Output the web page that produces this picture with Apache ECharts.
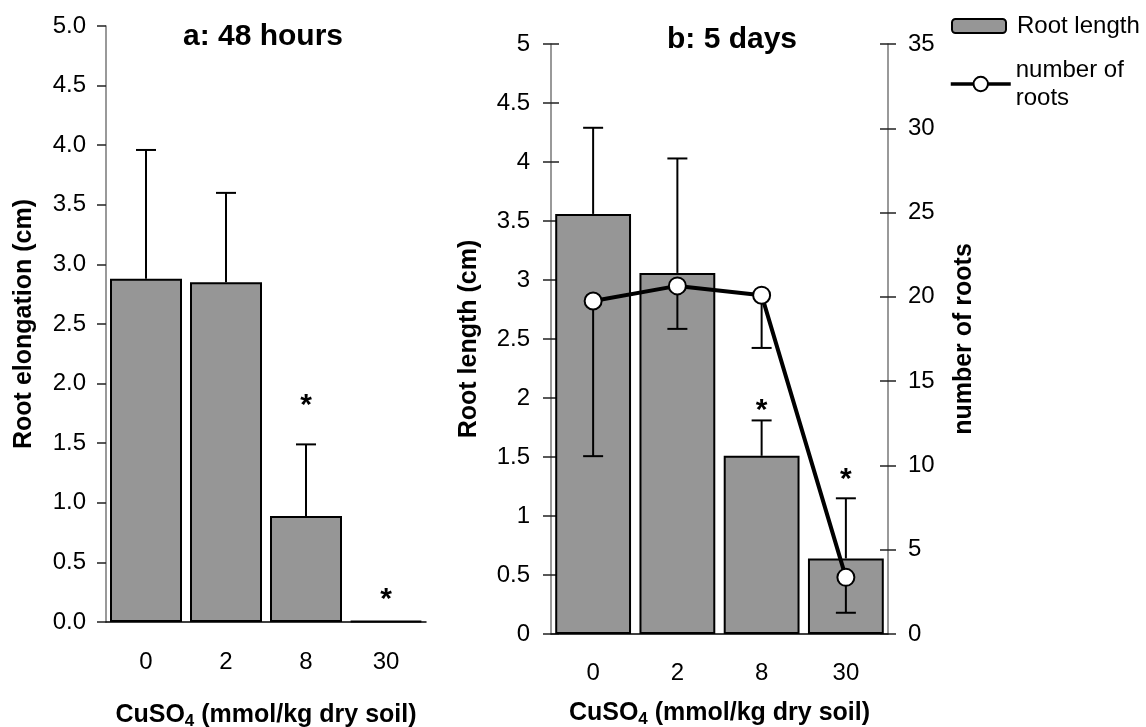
<!DOCTYPE html>
<html>
<head>
<meta charset="utf-8">
<script src="https://cdn.jsdelivr.net/npm/echarts@6/dist/echarts.min.js"></script>
<style>
  html, body { margin: 0; padding: 0; background: #fff; }
  #chart { width: 1146px; height: 727px; }
</style>
</head>
<body>
<div id="chart"></div>
<script>
// CuSO4 doses (mmol/kg dry soil)
var categories = ['0', '2', '8', '30'];

// a: 48 hours - root elongation (cm) and SD
var elong48h = [2.88, 2.85, 0.89, 0.01];
var elong48hErr = [1.08, 0.75, 0.60, 0];
var stars48h = [null, null, 1.88, 0.25];

// b: 5 days - root length (cm), number of roots and their SDs
var length5d = [3.56, 3.06, 1.51, 0.64];
var length5dErr = [0.73, 0.97, 0.30, 0.51];
var roots5d = [19.75, 20.65, 20.1, 3.36];
var roots5dErr = [9.2, 2.55, 3.13, 2.1];
var stars5d = [null, null, 1.96, 1.375];

var FONT = 'Liberation Sans, Arial, sans-serif';
var GRAY = '#969696';

function errData(vals, errs) {
  return vals.map(function (v, i) { return [i, v, errs[i]]; });
}

function starData(ys) {
  var out = [];
  ys.forEach(function (y, i) { if (y != null) out.push([i, y]); });
  return out;
}

// dir: 1 = upper error bar, -1 = lower
function errRender(dir) {
  return function (params, api) {
    var e = api.value(2);
    if (!e) return;
    var v = api.value(1);
    var p0 = api.coord([api.value(0), v]);
    var p1 = api.coord([api.value(0), v + dir * e]);
    var st = { stroke: '#000', lineWidth: 2 };
    return {
      type: 'group',
      children: [
        { type: 'line', shape: { x1: p0[0], y1: p0[1], x2: p1[0], y2: p1[1] }, style: st },
        { type: 'line', shape: { x1: p1[0] - 10, y1: p1[1], x2: p1[0] + 10, y2: p1[1] }, style: st }
      ]
    };
  };
}

function starRender(params, api) {
  var p = api.coord([api.value(0), api.value(1)]);
  return {
    type: 'text',
    x: p[0],
    y: p[1] + 8,
    style: { text: '*', font: 'bold 30px ' + FONT, fill: '#000', align: 'center', verticalAlign: 'middle' }
  };
}

var tickFont = { fontFamily: FONT, fontSize: 24, color: '#000' };
var nameFont = { fontFamily: FONT, fontSize: 25, fontWeight: 'bold', color: '#000' };
var xName = 'CuSO{sub|4} (mmol/kg dry soil)';
var xNameStyle = {
  fontFamily: FONT, fontSize: 25, fontWeight: 'bold', color: '#000',
  rich: { sub: { fontFamily: FONT, fontSize: 17, fontWeight: 'bold', color: '#000', padding: [12, 0, 0, 0] } }
};
var tickLine = { color: '#222', width: 1.5 };
var hiddenLine = { show: true, lineStyle: { color: 'rgba(0,0,0,0)', width: 0 } };

var chart = echarts.init(document.getElementById('chart'));

chart.setOption({
  animation: false,
  title: [
    { text: 'a: 48 hours', left: 258, top: 17, textAlign: 'center',
      textStyle: { fontFamily: FONT, fontSize: 30, fontWeight: 'bold', color: '#000' } },
    { text: 'b: 5 days', left: 727, top: 20, textAlign: 'center',
      textStyle: { fontFamily: FONT, fontSize: 30, fontWeight: 'bold', color: '#000' } }
  ],
  legend: [
    {
      data: ['Root length'], orient: 'vertical', left: 946, top: 9,
      itemWidth: 54, itemHeight: 14,
      textStyle: { fontFamily: FONT, fontSize: 24, color: '#000', padding: [0, 0, 0, 6] }
    },
    {
      data: ['number of\nroots'], orient: 'vertical', left: 944, top: 37,
      itemWidth: 60, itemHeight: 18,
      lineStyle: { width: 3.5 },
      textStyle: { fontFamily: FONT, fontSize: 24, lineHeight: 28, color: '#000', padding: [28, 0, 0, 0] }
    }
  ],
  grid: [
    { left: 106, right: 720, top: 26, bottom: 105, outerBoundsMode: 'none', containLabel: false },
    { left: 551, right: 258, top: 44, bottom: 93, outerBoundsMode: 'none', containLabel: false }
  ],
  xAxis: [
    {
      gridIndex: 0, type: 'category', data: categories,
      axisLine: { lineStyle: { color: '#000', width: 1.5 } },
      axisTick: { length: 9, lineStyle: { color: '#777', width: 1.5 } },
      axisLabel: Object.assign({ margin: 28 }, tickFont),
      name: xName, nameLocation: 'middle', nameGap: 79, nameTextStyle: xNameStyle
    },
    {
      gridIndex: 1, type: 'category', data: categories,
      axisLine: { lineStyle: { color: '#000', width: 1.5 } },
      axisTick: { length: 9, lineStyle: { color: '#777', width: 1.5 } },
      axisLabel: Object.assign({ margin: 27 }, tickFont),
      name: xName, nameLocation: 'middle', nameGap: 65, nameTextStyle: xNameStyle
    }
  ],
  yAxis: [
    {
      gridIndex: 0, type: 'value', position: 'left', min: 0, max: 5, interval: 0.5,
      splitLine: { show: false },
      axisLine: { show: true, lineStyle: { color: '#777', width: 1.5 } },
      axisTick: { show: true, length: 9, lineStyle: tickLine },
      axisLabel: Object.assign({ margin: 20, formatter: function (v) { return v.toFixed(1); } }, tickFont),
      name: 'Root elongation (cm)', nameLocation: 'middle', nameRotate: 90, nameGap: 69,
      nameTextStyle: nameFont
    },
    {
      gridIndex: 1, type: 'value', position: 'left', min: 0, max: 5, interval: 0.5,
      splitLine: { show: false },
      axisLine: { show: true, lineStyle: { color: '#777', width: 1.5 } },
      axisTick: { show: true, length: 8, lineStyle: tickLine },
      axisLabel: Object.assign({ margin: 21 }, tickFont),
      name: 'Root length (cm)', nameLocation: 'middle', nameRotate: 90, nameGap: 69,
      nameTextStyle: nameFont
    },
    {
      gridIndex: 1, type: 'value', position: 'right', min: 0, max: 35, interval: 5,
      splitLine: { show: false },
      axisLine: { show: true, lineStyle: { color: '#777', width: 1.5 } },
      axisTick: { show: true, length: 8, lineStyle: tickLine },
      axisLabel: Object.assign({ margin: 20 }, tickFont),
      name: 'number of roots', nameLocation: 'middle', nameRotate: 90, nameGap: 64,
      nameTextStyle: nameFont
    },
    // copies giving the inner halves of the crossing ticks in panel b
    {
      gridIndex: 1, type: 'value', position: 'left', min: 0, max: 5, interval: 0.5,
      splitLine: { show: false }, axisLine: hiddenLine, axisLabel: { show: false },
      axisTick: { show: true, inside: true, length: 8, lineStyle: tickLine }
    },
    {
      gridIndex: 1, type: 'value', position: 'right', min: 0, max: 35, interval: 5,
      splitLine: { show: false }, axisLine: hiddenLine, axisLabel: { show: false },
      axisTick: { show: true, inside: true, length: 8, lineStyle: tickLine }
    }
  ],
  series: [
    {
      name: 'Root elongation', type: 'bar', xAxisIndex: 0, yAxisIndex: 0,
      data: elong48h, barCategoryGap: '10%',
      itemStyle: { color: GRAY, borderColor: '#000', borderWidth: 2 }, z: 2
    },
    {
      type: 'custom', xAxisIndex: 0, yAxisIndex: 0, renderItem: errRender(1),
      data: errData(elong48h, elong48hErr), z: 3, silent: true
    },
    {
      type: 'custom', xAxisIndex: 0, yAxisIndex: 0, renderItem: starRender,
      data: starData(stars48h), z: 3, silent: true
    },
    {
      name: 'Root length', type: 'bar', xAxisIndex: 1, yAxisIndex: 1,
      data: length5d, barCategoryGap: '10%',
      itemStyle: { color: GRAY, borderColor: '#000', borderWidth: 2 }, z: 2
    },
    {
      type: 'custom', xAxisIndex: 1, yAxisIndex: 1, renderItem: errRender(1),
      data: errData(length5d, length5dErr), z: 3, silent: true
    },
    {
      type: 'custom', xAxisIndex: 1, yAxisIndex: 2, renderItem: errRender(-1),
      data: errData(roots5d, roots5dErr), z: 3, silent: true
    },
    {
      type: 'custom', xAxisIndex: 1, yAxisIndex: 1, renderItem: starRender,
      data: starData(stars5d), z: 3, silent: true
    },
    {
      name: 'number of\nroots', type: 'line', xAxisIndex: 1, yAxisIndex: 2,
      data: roots5d, symbol: 'circle', symbolSize: 17,
      lineStyle: { color: '#000', width: 4 },
      itemStyle: { color: '#fff', borderColor: '#000', borderWidth: 2 }, z: 5
    },
    // empty series so the tick-only copy axes are laid out
    { type: 'line', xAxisIndex: 1, yAxisIndex: 3, data: [], silent: true },
    { type: 'line', xAxisIndex: 1, yAxisIndex: 4, data: [], silent: true }
  ]
});
</script>
</body>
</html>
